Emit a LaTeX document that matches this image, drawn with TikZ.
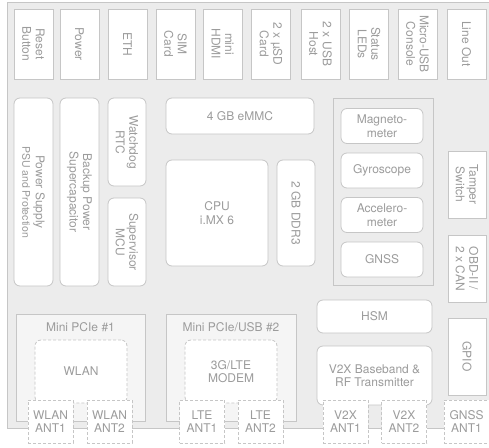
\documentclass[tikz,border=0pt]{standalone}
\usepackage{fontspec}
\setmainfont{TeX Gyre Heros}
\usetikzlibrary{positioning}
\definecolor{boardfill}{HTML}{ECECEC}
\definecolor{slotfill}{HTML}{F5F5F5}
\definecolor{edgegray}{HTML}{C6C6C6}
\definecolor{txtgray}{HTML}{9C9C9C}
\tikzstyle{base} = [rectangle, inner sep=0pt, line width=0.8pt, draw=edgegray, text=txtgray, align=center, font=\fontsize{12}{13.5}\selectfont]
\tikzstyle{port} = [base, fill=white, rotate=-90, minimum width=70pt, minimum height=39pt]
\tikzstyle{chip} = [base, fill=white, rounded corners=6pt]
\tikzstyle{vchip} = [chip, rotate=-90, minimum height=39pt]
\tikzstyle{sensor} = [minimum width=82pt, minimum height=35pt]
\tikzstyle{group} = [base, fill=boardfill]
\tikzstyle{slot} = [base, fill=slotfill]
\tikzstyle{module} = [base, fill=white, dash pattern=on 3pt off 2pt, rounded corners=6pt, minimum width=92pt, minimum height=63pt]
\tikzstyle{antenna} = [base, fill=white, dash pattern=on 3pt off 2pt, minimum width=45pt, minimum height=43pt]
\tikzstyle{caption} = [text=txtgray, inner sep=0pt, font=\fontsize{12}{13.5}\selectfont]

\begin{document}
\begin{tikzpicture}[x=1pt, y=-1pt, node distance=44.5pt]
        \clip (0,0) rectangle (489,447);
        \fill[white] (0,0) rectangle (489,447);
        % board
        \draw[line width=0.8pt, draw=edgegray, fill=boardfill] (7,2) rectangle (495,428);

        % connectors on top
        \node (reset) [port] at (33.5,44) {Reset\\Button};
        \node (power) [port] at (79.5,44) {Power};
        \node (eth) [port] at (127.5,44) {ETH};
        \node (sim) [port] at (175.5,44) {SIM\\Card};
        \node (hdmi) [port] at (222.5,44) {mini\\HDMI};
        \node (usd) [port] at (271,44) {2 x µSD\\Card};
        \node (usb) [port] at (320.5,44) {2 x USB\\Host};
        \node (leds) [port] at (369,44) {Status\\LEDs};
        \node (console) [port] at (417.5,44) {Micro-USB\\Console};
        \node (lineout) [port] at (466.5,44) {Line Out};

        % power and supervision
        \node (psu) [vchip, minimum width=188pt] at (33.5,192) {Power Supply\\{\fontsize{10.5}{13.5}\selectfont PSU and Protection}};
        \node (backup) [vchip, minimum width=188pt] at (79.5,192) {Backup Power\\Supercapacitor};
        \node (rtc) [vchip, minimum width=88pt, minimum height=38pt] at (127,142) {Watchdog\\RTC};
        \node (mcu) [vchip, minimum width=88pt, minimum height=38pt] at (127,242) {Supervisor\\MCU};

        % processing
        \node (emmc) [chip, minimum width=148pt, minimum height=36pt] at (240,116) {4 GB eMMC};
        \node (cpu) [chip, minimum width=102pt, minimum height=106pt] at (217,213) {CPU\\i.MX 6};
        \node (ddr) [vchip, minimum width=106pt, minimum height=38pt] at (296,213) {2 GB DDR3};

        % sensors
        \node (sensors) [group, minimum width=100pt, minimum height=187pt] at (383,191.5) {};
        \node (magneto) [chip, sensor] at (382,126) {Magneto-\\meter};
        \node (gyro) [chip, sensor, below of=magneto] {Gyroscope};
        \node (accel) [chip, sensor, below of=gyro] {Accelero-\\meter};
        \node (gnss) [chip, sensor, below of=accel] {GNSS};

        % side connectors
        \node (tamper) [port, minimum width=67pt, minimum height=38pt] at (467,184.5) {Tamper\\Switch};
        \node (obd) [port, minimum width=67pt, minimum height=38pt] at (467,268.5) {OBD-II /\\2 x CAN};
        \node (gpio) [port, minimum width=77pt, minimum height=38pt] at (467,356.5) {GPIO};

        \node (hsm) [chip, minimum width=115pt, minimum height=33pt] at (374.5,316.5) {HSM};

        % mini pcie slots
        \node (pcie1) [slot, minimum width=129pt, minimum height=107pt] at (80.5,367.5) {};
        \node (pcie1name) [caption] at (80.5,327) {Mini PCIe \#1};
        \node (pcie2) [slot, minimum width=130pt, minimum height=107pt] at (231,367.5) {};
        \node (pcie2name) [caption] at (231,327) {Mini PCIe/USB \#2};
        \node (wlan) [module] at (81,371.5) {WLAN};
        \node (modem) [module] at (231,371.5) {3G/LTE\\MODEM};
        \node (v2x) [chip, minimum width=115pt, minimum height=59pt] at (374.5,375.5) {V2X Baseband \&\\RF Transmitter};

        % antennas
        \node (wlanant1) [antenna] at (50.5,421.5) {WLAN\\ANT1};
        \node (wlanant2) [antenna] at (109.5,421.5) {WLAN\\ANT2};
        \node (lteant1) [antenna] at (202,421.5) {LTE\\ANT1};
        \node (lteant2) [antenna] at (260.5,421.5) {LTE\\ANT2};
        \node (v2xant1) [antenna] at (345.5,421.5) {V2X\\ANT1};
        \node (v2xant2) [antenna] at (404,421.5) {V2X\\ANT2};
        \node (gnssant) [antenna] at (466.5,421.5) {GNSS\\ANT1};

        \end{tikzpicture}
\end{document}
